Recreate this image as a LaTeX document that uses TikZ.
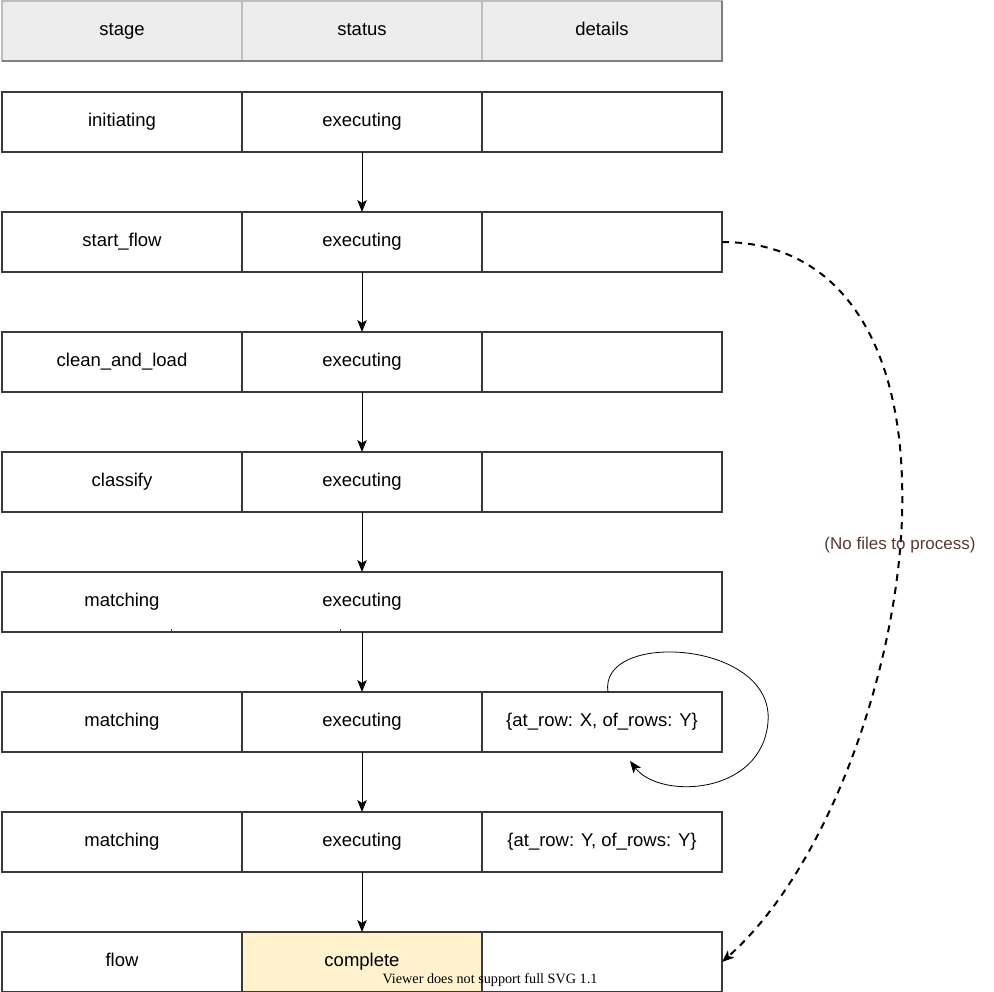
\documentclass[tikz,border=0pt]{standalone}
\usepackage{fontspec}
\setmainfont{Liberation Sans}
\newfontfamily\serifnote{Liberation Serif}
\usetikzlibrary{arrows.meta}
\definecolor{hdrfill}{HTML}{EDEDED}
\definecolor{hdrline}{HTML}{BDBDBD}
\definecolor{cellline}{HTML}{3A3A3A}
\definecolor{donefill}{HTML}{FFF2CC}
\definecolor{labelbrown}{HTML}{5A3A30}
\tikzset{
  cell/.style={draw=cellline, line width=1.2pt, fill=white, minimum width=240pt,
    minimum height=60pt, inner sep=0pt, outer sep=0pt,
    text height=13.5pt, text depth=4pt,
    font=\fontsize{18.5}{22}\selectfont},
  hdr/.style={cell, draw=hdrline, fill=hdrfill},
  done/.style={cell, fill=donefill},
  plaintext/.style={inner sep=0pt, text height=13.5pt, text depth=4pt,
    font=\fontsize{18.5}{22}\selectfont},
  flow/.style={draw=black, line width=1pt, -{Stealth[length=12pt,width=9.5pt,inset=3pt]}},
  skip/.style={flow, dashed, dash pattern=on 7pt off 6pt, line width=2pt},
}
\begin{document}
\begin{tikzpicture}[x=1pt, y=-1pt]
\useasboundingbox (0,0) rectangle (994,992);

% header row
\node[hdr] (h1) at (122,31) {stage};
\node[hdr] (h2) at (362,31) {status};
\node[hdr] (h3) at (602,31) {details};
\draw[gray, line width=1.2pt] (h1.south west) -- (h3.south east) -- (h3.north east);

% stage rows
\node[cell] (a1) at (122,122) {initiating};
\node[cell] (b1) at (362,122) {executing};
\node[cell] (c1) at (602,122) {};

\node[cell] (a2) at (122,242) {start\_flow};
\node[cell] (b2) at (362,242) {executing};
\node[cell] (c2) at (602,242) {};

\node[cell] (a3) at (122,362) {clean\_and\_load};
\node[cell] (b3) at (362,362) {executing};
\node[cell] (c3) at (602,362) {};

\node[cell] (a4) at (122,482) {classify};
\node[cell] (b4) at (362,482) {executing};
\node[cell] (c4) at (602,482) {};

% merged row
\node[cell, minimum width=720pt] (w5) at (362,602) {};
\node[plaintext] (a5) at (122,602) {matching};
\node[plaintext] (b5) at (362,602) {executing};
\draw[cellline, line width=0.8pt] (171,632) -- (171,629) (340,632) -- (340,629);

\node[cell] (a6) at (122,722) {matching};
\node[cell] (b6) at (362,722) {executing};
\node[cell] (c6) at (602,722) {\{at\_row: X, of\_rows: Y\}};

\node[cell] (a7) at (122,842) {matching};
\node[cell] (b7) at (362,842) {executing};
\node[cell] (c7) at (602,842) {\{at\_row: Y, of\_rows: Y\}};

\node[cell] (a8) at (122,962) {flow};
\node[done] (b8) at (362,962) {complete};
\node[cell] (c8) at (602,962) {};

\node[inner sep=0pt, font=\serifnote\fontsize{14.2}{16}\selectfont] (note) at (490,980) {Viewer does not support full SVG 1.1};

% status transitions
\draw[flow] (b1.south) -- (b2.north);
\draw[flow] (b2.south) -- (b3.north);
\draw[flow] (b3.south) -- (b4.north);
\draw[flow] (b4.south) -- (b4.south |- w5.north);
\draw[flow] (b4.south |- w5.south) -- (b6.north);
\draw[flow] (b6.south) -- (b7.north);
\draw[flow] (b7.south) -- (b8.north);

% progress loop on the details cell
\coordinate (loopstart) at (608,692);
\coordinate (loopend) at (630,761);
\draw[flow, line width=0.8pt] (loopstart) .. controls (598,630) and (775,640) .. (768,722)
  .. controls (762,795) and (660,800) .. (loopend);

% shortcut when nothing is queued
\draw[skip] (c2.east) .. controls (835,242) and (898,335) .. (902,480)
  .. controls (908,640) and (835,862) .. (c8.east);
\node[inner sep=0pt, text=labelbrown, font=\fontsize{17}{20}\selectfont] (skiplabel) at (900,545) {(No files to process)};
\end{tikzpicture}
\end{document}
